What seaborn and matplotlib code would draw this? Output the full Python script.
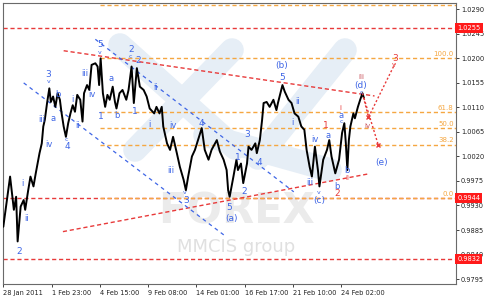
import matplotlib
matplotlib.use("Agg")
import matplotlib.pyplot as plt
import seaborn as sns
import pandas as pd

# ---------------- data ----------------
hours = [0, 9, 14, 17, 19, 23, 27, 29, 33, 36, 40, 43, 48, 51, 53, 55, 58, 61, 63, 66,
         69, 72, 75, 77, 80, 83, 86, 89, 92, 95, 98, 102, 105, 107, 111, 114, 117, 122, 125, 127,
         129, 132, 135, 138, 141, 145, 148, 150, 154, 158, 163, 166, 170, 173, 177, 181, 186, 190, 194, 200,
         203, 207, 210, 212, 217, 221, 225, 230, 234, 239, 242, 245, 250, 254, 258, 263, 267, 272, 276, 283,
         287, 292, 296, 298, 300, 305, 309, 311, 315, 318, 323, 325, 329, 334, 336, 340, 343, 345, 349, 353,
         358, 362, 364, 370, 373, 378, 382, 386, 391, 395, 399, 402, 406, 409, 413, 417, 419, 424, 429, 432,
         435, 440, 445, 449, 452, 454, 456, 458, 460, 464, 466, 470, 473, 476, 478]
price = [0.9891, 0.9983, 0.9922, 0.9946, 0.9864, 0.9928, 0.9940, 0.9922, 0.9958, 0.9983,
         0.9965, 0.9989, 1.0026, 1.0044, 1.0075, 1.0087, 1.0118, 1.0145, 1.0120, 1.0130,
         1.0111, 1.0136, 1.0124, 1.0102, 1.0075, 1.0056, 1.0081, 1.0099, 1.0114, 1.0102,
         1.0133, 1.0124, 1.0084, 1.0136, 1.0151, 1.0142, 1.0188, 1.0191, 1.0185, 1.0151,
         1.0200, 1.0136, 1.0111, 1.0133, 1.0124, 1.0148, 1.0120, 1.0108, 1.0136, 1.0142,
         1.0124, 1.0142, 1.0185, 1.0118, 1.0182, 1.0148, 1.0142, 1.0130, 1.0108, 1.0099,
         1.0111, 1.0099, 1.0111, 1.0075, 1.0044, 1.0032, 1.0056, 1.0026, 1.0001, 0.9977,
         0.9958, 0.9983, 1.0020, 1.0032, 1.0050, 1.0072, 1.0032, 1.0014, 1.0032, 1.0050,
         1.0029, 1.0014, 0.9995, 0.9958, 0.9946, 0.9983, 1.0014, 0.9995, 1.0007, 0.9971,
         1.0007, 1.0038, 1.0032, 1.0044, 1.0026, 1.0050, 1.0087, 1.0118, 1.0120, 1.0111,
         1.0124, 1.0105, 1.0118, 1.0151, 1.0139, 1.0124, 1.0118, 1.0099, 1.0093, 1.0075,
         1.0069, 1.0032, 1.0001, 0.9983, 1.0038, 0.9995, 0.9965, 1.0014, 1.0032, 1.0050,
         1.0020, 0.9989, 1.0014, 1.0063, 1.0081, 1.0044, 0.9995, 1.0050, 1.0075, 1.0099,
         1.0090, 1.0111, 1.0124, 1.0136, 1.0127]

time_ticks = [0, 64, 128, 192, 256, 320, 384, 448]
time_labels = ["28 Jan 2011", "1 Feb 23:00", "4 Feb 15:00", "9 Feb 08:00",
               "14 Feb 01:00", "16 Feb 17:00", "21 Feb 10:00", "24 Feb 02:00"]
price_ticks = [0.9795, 0.9840, 0.9885, 0.9930, 0.9975, 1.0020,
               1.0065, 1.0110, 1.0155, 1.0200, 1.0245, 1.0290]

fib_start = 128
fib_levels = [0.9944, 1.00418, 1.0072, 1.01022, 1.0200, 1.02978]
fib_names = ["0.0", "38.2", "50.0", "61.8", "100.0", ""]
red_levels = [1.0255, 0.9944, 0.9832]
red_level_names = ["1.0255", "0.9944", "0.9832"]

red_trend_x = [[80, 492], [79, 484]]
red_trend_y = [[1.0214, 1.0131], [0.9882, 0.9988]]
blue_trend_x = [[27, 296], [122, 385]]
blue_trend_y = [[1.0155, 0.9872], [1.0235, 0.9955]]

proj_up_x = [476, 484, 519]
proj_up_y = [1.0136, 1.0092, 1.0190]
proj_down_x = [478, 497]
proj_down_y = [1.0127, 1.0041]

blue_text = ["2", "i", "ii", "3", "iii", "iv", "a", "b", "4", "i", "ii", "iii", "iv",
             "5", "1", "a", "b", "2", "2", "1", "ii", "i", "iv", "iii", "3", "4",
             "5", "(a)", "1", "2", "3", "4", "(b)", "5", "ii", "i", "iv", "iii", "(c)",
             "a", "b", "a", "b", "(d)", "(e)"]
blue_x = [21, 26, 31, 60, 51, 60, 66, 72, 85, 92, 98, 108, 118,
          128, 129, 143, 150, 170, 179, 174, 202, 194, 225, 222, 243, 263,
          300, 302, 311, 319, 323, 339, 369, 369, 390, 383, 413, 406, 419,
          431, 442, 448, 455, 474, 501]
blue_y = [0.9845, 0.9971, 0.9907, 1.0170, 1.0087, 1.0041, 1.0089, 1.0133, 1.0038,
          1.0125, 1.0076, 1.0173, 1.0134, 1.0225, 1.0093, 1.0163, 1.0096, 1.0217,
          1.0196, 1.0102, 1.0147, 1.0078, 1.0076, 0.9995, 0.9939, 1.0080, 0.9927,
          0.9907, 1.0018, 0.9955, 1.0061, 1.0009, 1.0187, 1.0165, 1.0120, 1.0082, 1.0052,
          0.9972, 0.9939, 1.0058, 0.9965, 1.0096, 0.9995, 1.0151, 1.0009]
small_text = ["c", "v", "v", "c", "v", "v", "c", "c"]
small_x = [84, 60, 128, 169, 241, 418, 448, 475]
small_y = [1.0052, 1.0157, 1.0210, 1.0203, 0.9953, 0.9953, 1.0085, 1.0138]

red_text = ["1", "2", "i", "ii", "iii", "iv", "3", "v"]
red_x = [428, 442, 447, 456, 474, 483, 520, 518]
red_y = [1.0076, 0.9952, 1.0108, 0.9980, 1.0166, 1.0076, 1.0200, 1.0188]

# ---------------- style ----------------
sns.set_theme(style="white")
plt.rcParams["font.family"] = ["DejaVu Sans"]

W, H = 487, 299
fig = plt.figure(figsize=(W / 100, H / 100), dpi=100)
fig.patch.set_facecolor("white")
ax = fig.add_axes([3 / W, 15 / H, 453 / W, 281 / H])
ax.set_facecolor("white")

RED = "#e83a3a"
ORANGE = "#f5a742"
BLUE = "#3f66e6"

# watermark (figure coordinates)
def fp(x, y):
    return x / W, 1 - y / H

bands = [((120, 45), (235, 148)), ((135, 150), (232, 50)),
         ((258, 158), (345, 50)), ((205, 135), (330, 170))]
for (a, b) in bands:
    (x0, y0), (x1, y1) = fp(*a), fp(*b)
    ax.plot([x0, x1], [y0, y1], transform=fig.transFigure, color="#e6eef6",
            lw=17, solid_capstyle="round", zorder=0.2, clip_on=False)
wx, wy = fp(237, 211)
ax.text(wx, wy, "FOREX", transform=fig.transFigure, fontsize=30, fontweight="bold",
        color="#ebebeb", ha="center", va="center", zorder=0.3)
wx, wy = fp(236, 247)
ax.text(wx, wy, "MMCIS group", transform=fig.transFigure, fontsize=13,
        color="#e0e0e0", ha="center", va="center", zorder=0.3)

# horizontal levels
for lv in red_levels:
    ax.axhline(lv, color=RED, lw=1.0, ls=(0, (3, 2)), zorder=1)
for lv, nm in zip(fib_levels, fib_names):
    ax.plot([fib_start, 600], [lv, lv], color=ORANGE, lw=1.0, ls=(0, (3, 2)), zorder=1.1)
    if nm:
        ax.text(597, lv + 0.0002, nm, color=ORANGE, fontsize=5, ha="right",
                va="bottom", zorder=5)

# trend lines
for xs, ys in zip(red_trend_x, red_trend_y):
    ax.plot(xs, ys, color=RED, lw=1.0, ls=(0, (3, 2)), zorder=1.2)
for xs, ys in zip(blue_trend_x, blue_trend_y):
    ax.plot(xs, ys, color=BLUE, lw=0.9, ls=(0, (3, 3)), zorder=1.2)

# price
df = pd.DataFrame({"hour": hours, "price": price})
sns.lineplot(data=df, x="hour", y="price", ax=ax, color="black", lw=1.4,
             estimator=None, sort=False, zorder=3)

# projections
ax.plot(proj_up_x, proj_up_y, color=RED, lw=1.0, ls=(0, (1.5, 1.5)), zorder=4)
ax.plot(proj_down_x, proj_down_y, color=RED, lw=1.0, ls=(0, (1.5, 1.5)), zorder=4)
ax.plot([proj_up_x[1], proj_down_x[1]], [proj_up_y[1], proj_down_y[1]], ls="none",
        marker="x", ms=3, mew=1, color=RED, zorder=4)

# wave labels
for t, x, y in zip(blue_text, blue_x, blue_y):
    fs = 6.5 if (t.isdigit() or t.startswith("(")) else 6
    ax.text(x, y, t, color=BLUE, fontsize=fs, ha="center", va="center", zorder=6)
for t, x, y in zip(small_text, small_x, small_y):
    ax.text(x, y, t, color=BLUE, fontsize=4.5, ha="center", va="center", zorder=6)
for t, x, y in zip(red_text, red_x, red_y):
    col = "#c8505a" if t in ("iii", "iv") else RED
    ax.text(x, y, t, color=col, fontsize=6.5 if t.isdigit() else 5,
            ha="center", va="center", zorder=6)

# axes
ax.set_xlim(-0.4, 600)
ax.set_ylim(0.97859, 1.03016)
ax.set_xlabel("")
ax.set_ylabel("")
ax.yaxis.tick_right()
ax.set_yticks(price_ticks)
ax.set_yticklabels([f"{v:.4f}" for v in price_ticks])
ax.set_xticks(time_ticks)
ax.set_xticklabels(time_labels, ha="left")
ax.tick_params(axis="y", which="both", right=True, left=False, length=2, width=0.6,
               pad=1.5, labelsize=4.8, colors="#222222", direction="out")
ax.tick_params(axis="x", which="both", bottom=True, length=2.5, width=0.6, pad=1.5,
               labelsize=4.8, colors="#222222", direction="out")
for sp in ax.spines.values():
    sp.set_color("#6a6a6a")
    sp.set_linewidth(0.8)
ax.grid(False)

for lv, nm in zip(red_levels, red_level_names):
    ax.text(1.003, lv, nm, transform=ax.get_yaxis_transform(), color="white",
            fontsize=4.8, ha="left", va="center", zorder=10, clip_on=False,
            bbox=dict(boxstyle="square,pad=0.3", fc="#ff1a1a", ec="none"))

fig.savefig("out.png", dpi=100)
